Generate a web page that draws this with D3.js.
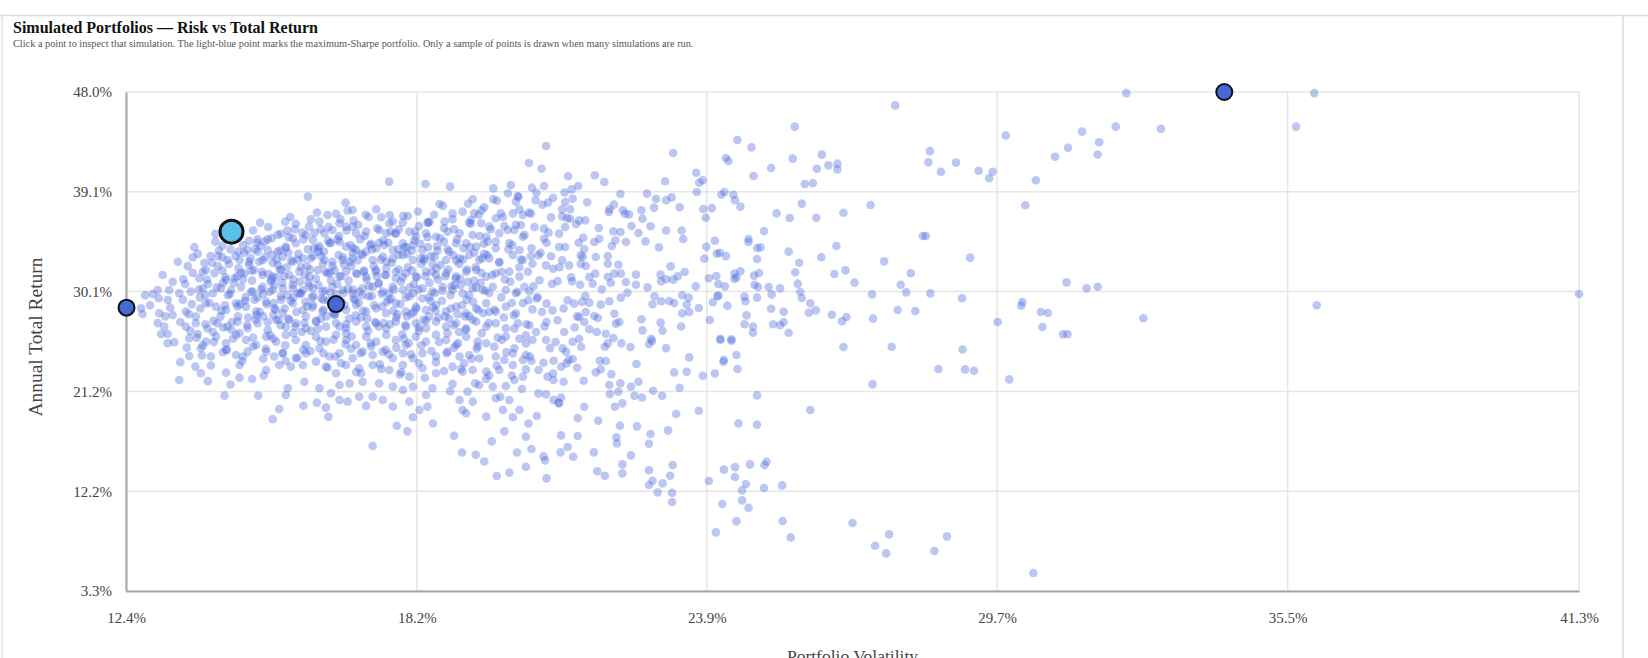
<!DOCTYPE html>
<html>
<head>
<meta charset="utf-8">
<script src="https://cdn.jsdelivr.net/npm/d3@7"></script>
<style>
  body { margin: 0; background: #fff; }
  svg text { font-family: "Liberation Serif", "Times New Roman", serif; }
</style>
</head>
<body>
<div id="chart"></div>
<script>
// valores: [volatilidad %, retorno total anual %]
const volTicks = [12.37, 18.16, 23.93, 29.71, 35.49, 41.29]
const retTicks = [3.3, 12.24, 21.18, 30.12, 39.06, 48.0]

const simsIzqArriba = [
  [17.61,39.97],[18.33,39.76],[18.82,39.52],[19.68,39.37],[20.03,39.67],[19.97,38.93],[20.17,38.69],[20.13,38.18],
  [19.75,38.27],[19.27,38.39],[19.5,37.67],[18.61,37.97],[18.87,37.13],[19.07,37.28],[19.3,37.13],[19.83,37.13],
  [20.07,37.13],[20.27,36.98],[19.73,36.69],[15.99,38.63],[16.74,38.09],[16.78,37.37],[16.88,37.43],[16.38,36.98],
  [16.22,36.39],[17.45,36.78],[17.62,36.98],[17.98,36.89],[17.88,36.3],[17.61,36.24],[18.37,36.3],[18.41,36.39],
  [18.71,36.39],[19.24,36.54],[19.44,36.24],[19.6,35.94],[19.97,35.64],[20.23,36.09],[15.54,36.39],
  [15.58,35.58],[16.01,35.94],[15.95,35.19],[15.69,34.89],[16.32,35.34],[16.48,35.64],[16.62,36.24],[16.75,35.94],
  [16.88,35.94],[16.95,35.34],[17.15,35.49],[17.41,35.64],[17.55,35.34],[17.74,35.34],[18.01,35.49],[18.14,35.04],
  [18.34,35.34],[18.54,35.04],[18.77,35.49],[19.01,35.34],[19.27,35.19],[19.54,35.04],[19.8,35.34],[20.1,35.64],
  [20.27,35.04],[14.99,34.8],[15.19,34.8],[14.82,34.66],[14.29,34.24],[14.61,33.7],[14.79,33.85],[14.99,33.7],
  [15.19,33.85],[15.39,33.7],[15.55,34.15],[15.75,34.45],[16.09,34.75],[16.19,34.0],[16.42,34.45],[16.62,34.6],
  [16.75,34.15],[16.95,33.85],[17.15,33.7],[17.35,34.0],[17.51,34.3],[17.68,33.85],[17.88,34.45],[18.08,34.3],
  [18.27,33.85],[18.57,33.79],[18.77,33.91],[18.94,34.45],[19.14,34.45],[19.34,34.15],[19.57,34.6],[19.73,34.0],
  [20.0,34.45],[20.2,33.85],[13.93,32.71],[14.29,33.19],[14.39,32.95],[14.63,32.95],[14.82,32.8],[15.09,32.95],
  [15.29,32.71],[15.49,33.25],[15.69,32.8],[15.89,33.1],[16.09,33.31],[16.32,32.95],[16.48,32.8],[16.68,32.95],
  [16.88,33.1],[17.08,33.4],[17.28,32.95],[17.48,33.25],[17.68,33.1],[17.88,33.4],[18.08,32.95],[18.31,33.1],
  [18.51,33.25],[18.74,32.95],[19.01,33.1],[19.2,33.4],[19.4,32.95],[19.6,33.1],[19.8,32.8],[20.07,33.4],[20.27,32.95]
]

const simsIzqCentro = [
  [13.1,31.61],[13.51,31.22],[13.83,31.31],[13.96,32.06],[14.13,31.76],[14.36,31.16],[14.53,31.31],[14.73,31.76],
  [14.92,32.06],[15.09,31.61],[15.29,31.46],[15.46,32.06],[15.62,31.61],[15.82,31.91],[16.02,31.46],[16.19,32.06],
  [16.38,31.76],[16.62,31.46],[16.75,31.91],[16.95,31.76],[17.15,31.46],[17.35,32.06],[17.55,31.61],[17.74,31.31],
  [17.94,31.76],[18.14,31.46],[18.34,31.91],[18.54,31.61],[18.74,31.76],[18.94,31.46],[19.14,31.91],[19.34,32.06],
  [19.54,31.46],[19.73,31.76],[20.0,31.91],[20.2,31.46],[13.0,30.27],[13.23,30.27],[13.43,29.97],[13.66,30.12],
  [13.9,30.42],[14.1,29.97],[14.26,30.42],[14.46,30.27],[14.66,30.56],[14.89,30.12],[15.09,30.56],[15.29,30.27],
  [15.49,30.42],[15.69,30.71],[15.89,30.27],[16.09,30.42],[16.28,30.12],[16.48,30.56],[16.68,30.27],[16.88,29.97],
  [17.08,30.42],[17.28,30.56],[17.48,30.12],[17.68,30.56],[17.88,30.27],[18.08,29.97],[18.27,30.42],[18.47,30.12],
  [18.67,30.56],[18.87,30.27],[19.07,29.97],[19.27,30.42],[19.47,30.27],[19.67,30.56],[19.93,30.27],[20.13,29.97],
  [20.3,30.56],[12.67,28.62],[12.7,28.12],[13.02,29.52],[13.2,29.37],[13.03,28.18],[13.3,28.03],[13.56,28.33],
  [13.76,27.88],[13.96,29.07],[14.16,28.77],[14.36,28.47],[14.56,29.07],[14.76,28.77],[14.96,28.33],[15.16,29.22],
  [15.32,28.62],[15.49,28.18],[15.69,29.07],[15.89,28.47],[16.09,28.92],[16.28,28.33],[16.52,28.03],[16.75,28.47],
  [16.95,28.92],[17.15,28.33],[17.35,28.62],[17.55,28.18],[17.74,29.07],[17.94,28.33],[18.14,28.77],[18.34,28.47],
  [18.54,28.92],[18.74,28.33],[18.94,28.77],[19.14,28.18],[19.34,28.62],[19.54,29.07],[19.73,28.33],[19.93,28.77],
  [20.13,28.18],[13.13,26.98],[13.2,26.32],[13.56,26.98],[13.76,27.28],[13.99,26.83],[14.19,27.28],[14.39,26.98],
  [14.59,27.43],[14.79,26.83],[14.99,27.28],[15.19,26.68],[15.36,27.58],[15.55,26.98],[15.75,27.28],[15.95,26.83],
  [16.15,27.43],[16.35,26.98],[16.55,27.28],[16.75,26.83],[16.95,27.43],[17.15,26.98],[17.35,27.28],[17.55,26.83],
  [17.74,27.43],[17.94,26.98],[18.14,27.28],[18.34,26.83],[18.54,27.43],[18.74,26.98],[18.94,27.28],[19.14,26.83],
  [19.34,27.43],[19.54,26.98],[19.73,27.28],[19.93,26.83],[20.17,27.28]
]

const simsIzqAbajo = [
  [13.07,26.32],[13.33,25.58],[13.2,25.49],[13.63,25.94],[13.8,26.32],[13.96,25.64],[14.16,26.09],[14.36,25.49],
  [14.56,26.24],[14.76,25.79],[14.96,25.34],[15.16,26.09],[15.36,25.64],[15.55,26.24],[15.75,25.79],[15.95,25.34],
  [16.15,26.09],[16.35,25.64],[16.55,26.24],[16.75,25.79],[16.95,25.34],[17.15,26.09],[17.35,25.64],[17.55,26.24],
  [17.74,25.79],[17.94,25.34],[18.14,26.09],[18.34,25.64],[18.54,26.24],[18.74,25.79],[18.94,25.34],[19.14,26.09],
  [19.37,25.64],[19.54,25.49],[19.7,25.19],[19.93,26.09],[20.1,25.04],[13.63,24.35],[13.86,25.04],[14.06,24.3],
  [14.36,24.89],[14.56,24.44],[14.79,24.74],[15.16,24.74],[15.32,24.3],[15.49,24.59],[15.75,24.15],[15.95,24.59],
  [16.22,25.04],[16.42,24.3],[16.62,24.59],[16.88,24.15],[17.08,24.74],[17.28,24.44],[17.48,24.74],[17.68,24.15],
  [17.88,24.59],[18.08,24.15],[18.27,24.59],[18.54,24.3],[18.77,24.74],[19.01,24.3],[19.2,24.44],[19.4,24.15],
  [19.73,24.3],[20.07,24.59],[20.27,24.0],[13.43,22.2],[13.86,22.8],[14.36,22.86],[14.63,23.55],[14.63,22.41],
  [14.88,22.29],[15.16,23.1],[15.42,23.55],[15.65,23.4],[15.89,23.55],[16.15,23.85],[16.35,23.4],[16.55,22.8],
  [16.75,23.55],[17.01,23.25],[17.28,23.55],[17.61,23.1],[17.88,23.55],[18.01,22.5],[18.27,23.25],[18.54,22.8],
  [18.87,23.4],[19.07,22.95],[19.27,23.1],[19.54,22.95],[19.8,23.1],[20.07,23.55],[20.27,22.5],[14.33,20.8],
  [15.42,19.61],[15.55,20.86],[15.59,21.46],[15.92,22.05],[16.22,21.46],[16.45,21.01],[16.62,21.76],[16.82,21.9],
  [17.08,22.05],[17.41,21.9],[17.68,21.61],[17.88,21.31],[18.08,21.61],[18.34,20.86],[18.47,21.46],[18.87,21.85],
  [19.17,21.16],[19.4,21.76],[19.67,21.61],[19.93,21.67],[20.1,22.2],[16.17,20.17],[16.35,19.73],[16.62,20.41],
  [16.78,20.26],[17.01,20.71],[17.15,19.88],[17.28,20.71],[17.48,20.41],[17.68,19.82],[18.01,20.26],[18.21,19.52],
  [18.37,19.82],[19.01,20.41],[19.27,20.26],[19.73,20.56],[20.0,20.41],[20.2,19.52],[15.29,18.68],[18.08,18.86],
  [19.07,19.52],[19.14,19.22],[19.54,18.92],[19.87,19.52],[20.07,18.86],
  [17.28,16.3],[17.76,18.1],[17.97,17.6],[18.48,18.3],[19.06,15.7],[19.33,15.5],[19.65,16.7],[19.9,17.6],
  [20.15,15.7],[19.5,14.9],[18.9,17.2],[20.0,13.9],[19.75,13.6]
]

const simsNucleo = [
  [14.05,33.3],[14.2,32.4],[14.45,33.9],[14.7,31.2],[14.85,33.1],[15.05,34.2],[15.25,31.0],[15.4,32.5],[15.6,33.6],
  [15.7,29.6],[15.85,32.3],[16.0,30.9],[16.2,33.7],[16.3,29.4],[16.45,31.1],[16.6,33.4],[16.7,30.0],[16.85,32.4],
  [17.0,29.1],[17.1,31.9],[17.25,34.4],[17.4,30.9],[17.55,32.8],[17.65,29.5],[17.8,32.1],[17.95,34.1],[18.1,30.8],
  [18.25,32.6],[18.4,29.6],[18.55,32.2],[18.7,34.6],[18.85,30.6],[19.0,32.6],[19.15,29.4],[19.3,31.1],[19.5,33.5],
  [19.6,30.0],[19.85,31.9],[20.05,29.1],[20.2,32.3],[13.3,31.0],[13.5,29.4],[13.7,31.8],[13.85,28.6],[14.0,30.8],
  [14.25,27.9],[14.4,29.8],[14.6,27.9],[14.75,29.6],[14.95,27.6],[15.1,29.9],[15.3,28.0],[15.45,29.7],[15.6,27.7],
  [15.8,30.0],[15.95,27.9],[16.1,29.7],[16.25,27.7],[16.4,29.3],[16.6,28.6],[16.75,26.4],[16.9,29.5],[17.05,27.8],
  [17.2,29.7],[17.4,27.0],[17.6,29.4],[17.75,27.8],[17.9,25.9],[18.05,28.1],[18.2,26.6],[18.4,27.9],[18.6,25.6],
  [18.8,27.7],[19.0,26.5],[19.2,27.9],[19.45,26.4],[19.6,28.3],[19.85,25.8],[20.1,26.8],[13.45,27.4],[13.65,26.6],
  [13.9,25.3],[14.1,26.5],[14.3,24.7],[14.5,25.9],[14.7,24.3],[14.9,26.0],[15.1,24.1],[15.3,25.9],[15.55,23.9],
  [15.7,26.4],[15.9,24.9],[16.05,26.6],[16.3,24.6],[16.5,25.8],[16.65,23.7],[16.85,25.0],[17.05,22.8],[17.25,25.2],
  [17.45,23.2],[17.6,24.5],[17.85,22.9],[18.0,25.5],[18.2,23.7],[18.45,24.8],[18.7,23.0],[18.9,25.1],[19.1,23.7],
  [19.35,25.0],[19.6,22.6],[19.9,24.0],[14.5,35.1],[14.9,35.6],[15.2,35.9],[15.45,35.3],[15.75,36.2],[16.05,36.6],
  [16.25,35.7],[16.55,37.1],[16.9,36.5],[17.2,36.8],[17.35,37.5],[17.8,35.7],[18.2,36.0],[18.5,37.0],[18.9,35.7],
  [19.2,36.3],[19.45,37.4],[19.9,36.0],[20.2,37.5],[13.6,32.4],[13.8,33.5],[14.15,34.6],[13.4,32.8],[13.25,28.7],
  [12.9,29.9],[12.85,28.9],[13.0,27.3],[12.75,29.8],[13.15,27.9],[13.45,23.8],[13.75,23.4],[14.0,22.1],[14.45,21.8],
  [15.9,19.9],[16.4,18.9],[15.0,20.8]
]

const simsDenso = [
  [13.55,30.8],[13.62,28.1],[13.7,33.2],[13.78,26.0],[13.84,29.6],[13.9,31.9],[13.95,27.2],[13.58,25.1],[13.88,24.4],[13.73,34.1],
  [14.03,29.1],[14.08,32.7],[14.12,25.6],[14.18,30.5],[14.22,33.8],[14.27,28.4],[14.31,26.9],[14.35,31.4],[14.4,34.9],[14.44,29.9],
  [14.48,27.4],[14.06,23.5],[14.29,32.0],[14.38,24.9],[14.15,35.3],
  [14.52,30.9],[14.55,33.3],[14.59,28.8],[14.63,26.4],[14.66,31.8],[14.7,34.3],[14.74,29.3],[14.78,27.1],[14.82,32.5],[14.86,30.1],
  [14.9,25.2],[14.94,33.9],[14.97,28.0],[14.57,36.0],[14.68,23.9],[14.88,31.1],[14.99,29.6],[14.61,32.2],
  [15.02,32.8],[15.06,30.3],[15.1,27.9],[15.13,34.6],[15.17,29.0],[15.21,31.7],[15.24,26.2],[15.28,33.4],[15.32,30.7],[15.35,28.5],
  [15.39,35.2],[15.43,32.1],[15.46,29.4],[15.49,24.6],[15.04,36.3],[15.15,25.0],[15.26,31.2],[15.37,33.0],[15.45,27.1],[15.11,22.6],
  [15.52,31.5],[15.55,34.0],[15.58,29.8],[15.62,27.6],[15.66,32.9],[15.69,30.4],[15.73,35.7],[15.76,28.3],[15.8,33.5],[15.83,31.0],
  [15.87,26.5],[15.9,34.8],[15.94,29.2],[15.97,32.4],[15.54,25.3],[15.64,36.8],[15.78,24.2],[15.85,30.0],[15.92,27.3],[15.99,33.9],
  [16.02,30.6],[16.05,33.1],[16.08,28.7],[16.12,35.4],[16.15,31.3],[16.19,26.8],[16.22,34.2],[16.26,29.5],[16.29,32.6],[16.33,30.2],
  [16.36,27.9],[16.4,35.9],[16.43,31.8],[16.47,29.0],[16.04,24.8],[16.17,37.2],[16.24,25.7],[16.31,33.7],[16.38,23.3],[16.45,34.5],[16.49,28.2],
  [16.52,32.0],[16.55,29.9],[16.58,34.8],[16.62,27.0],[16.65,31.5],[16.69,33.2],[16.72,28.9],[16.76,35.6],[16.79,30.4],[16.83,32.8],
  [16.86,26.1],[16.9,34.0],[16.93,29.4],[16.97,31.7],[16.54,24.3],[16.64,36.6],[16.74,25.4],[16.81,27.7],[16.88,33.6],[16.95,22.9],[16.99,36.1],
  [17.02,30.1],[17.05,33.5],[17.09,28.4],[17.12,35.1],[17.16,31.2],[17.19,26.6],[17.23,34.3],[17.26,29.7],[17.3,32.4],[17.33,27.4],
  [17.37,35.8],[17.4,30.8],[17.44,33.0],[17.47,28.8],[17.04,24.6],[17.14,37.0],[17.24,25.5],[17.34,31.9],[17.42,23.6],[17.49,34.7],
  [17.52,31.6],[17.56,29.2],[17.59,34.5],[17.63,27.2],[17.66,32.7],[17.7,30.3],[17.73,35.3],[17.77,28.1],[17.8,33.4],[17.84,31.0],
  [17.87,26.3],[17.91,34.1],[17.94,29.6],[17.98,32.3],[17.54,24.9],[17.68,36.4],[17.75,25.1],[17.82,22.7],[17.89,36.9],[17.96,27.9],
  [18.02,30.5],[18.06,33.8],[18.09,28.3],[18.13,35.5],[18.16,31.4],[18.2,26.9],[18.23,34.4],[18.27,29.5],[18.3,32.9],[18.34,27.5],
  [18.37,35.0],[18.41,30.9],[18.44,33.3],[18.48,28.7],[18.04,24.5],[18.18,37.3],[18.25,25.3],[18.32,22.4],[18.39,36.3],[18.46,31.9],
  [18.52,30.0],[18.56,34.2],[18.59,27.8],[18.63,32.5],[18.66,29.3],[18.7,35.8],[18.73,31.5],[18.77,26.4],[18.8,33.7],[18.84,28.6],
  [18.87,36.6],[18.91,30.7],[18.94,32.9],[18.98,25.5],[18.54,23.8],[18.68,37.8],[18.75,24.6],[18.82,21.2],[18.89,27.1],[18.96,34.8],
  [19.02,31.3],[19.06,28.9],[19.09,34.0],[19.13,26.7],[19.16,32.1],[19.2,29.8],[19.23,36.2],[19.27,27.6],[19.3,33.6],[19.34,30.5],
  [19.37,25.2],[19.41,35.1],[19.44,31.8],[19.48,28.2],[19.04,23.2],[19.18,38.0],[19.25,24.1],[19.32,21.9],[19.39,37.0],[19.46,33.1],
  [19.52,30.2],[19.56,33.4],[19.59,27.3],[19.63,35.7],[19.66,31.6],[19.7,28.5],[19.73,34.6],[19.77,26.0],[19.8,32.7],[19.84,29.6],
  [19.87,36.8],[19.91,31.2],[19.94,24.7],[19.98,33.9],[19.54,22.3],[19.68,38.4],[19.75,23.5],[19.82,20.7],[19.89,27.8],
  [20.02,31.0],[20.06,34.3],[20.09,28.0],[20.13,36.1],[20.16,30.1],[20.2,25.9],[20.23,33.0],[20.27,29.1],[20.3,35.2],[20.34,27.2],
  [20.37,31.9],[20.41,24.3],[20.44,34.0],[20.48,30.6],[20.05,22.6],[20.18,38.6],[20.25,21.4],[20.39,37.2],
  [20.55,29.5],[20.62,33.6],[20.7,27.0],[20.78,35.4],[20.85,30.8],[20.92,25.6],[21.0,32.3],[21.08,28.6],[21.15,36.7],[21.23,31.4],
  [21.3,26.9],[21.38,34.5],[21.45,29.2],[20.58,23.1],[20.88,22.2],[21.18,24.0],[21.42,32.6],[20.66,37.9],[21.1,39.0],[21.35,27.9]
]

const simsCentroExtra = [
  [14.58,31.5],[14.64,29.0],[14.72,33.6],[14.8,27.8],[14.87,32.0],[14.93,29.4],[14.98,34.5],[15.03,28.3],[15.08,31.9],[15.14,33.2],
  [15.19,27.4],[15.23,30.1],[15.27,34.9],[15.31,29.1],[15.36,31.4],[15.41,27.6],[15.44,33.8],[15.48,30.9],[15.53,28.6],[15.57,32.3],
  [15.61,35.0],[15.65,29.3],[15.7,31.2],[15.74,27.0],[15.79,33.0],[15.84,29.9],[15.88,35.4],[15.93,31.6],[15.98,28.8],[16.03,32.1],
  [16.07,29.6],[16.11,34.0],[16.16,27.5],[16.2,30.7],[16.25,33.3],[16.3,28.5],[16.34,31.9],[16.39,34.7],[16.44,30.0],[16.48,32.4],
  [16.53,28.1],[16.57,30.8],[16.61,35.1],[16.66,29.2],[16.71,32.5],[16.75,27.2],[16.8,31.1],[16.84,34.3],[16.89,30.3],[16.94,28.0],
  [16.98,32.9],[17.03,34.8],[17.07,29.8],[17.11,32.0],[17.17,27.7],[17.21,30.6],[17.27,33.9],[17.31,28.9],[17.36,31.5],[17.41,34.5],
  [17.46,29.9],[17.5,27.3],[17.55,32.2],[17.6,30.0],[17.64,35.5],[17.69,28.4],[17.74,31.9],[17.79,33.9],[17.83,29.0],[17.88,31.4],
  [17.93,27.1],[17.97,33.5],[18.01,29.7],[18.06,32.0],[18.11,34.7],[18.15,28.6],[18.19,30.3],[18.24,33.1],[18.29,27.6],[18.33,31.5],
  [18.38,34.1],[18.43,29.3],[18.47,32.6],[18.53,28.4],[18.58,31.2],[18.62,34.9],[18.67,30.2],[18.72,27.9],[18.78,32.1],[18.83,29.8],
  [18.88,33.4],[18.93,31.3],[18.97,28.1],[19.03,30.7],[19.08,33.0],[19.12,27.9],[19.17,31.0],[19.22,34.1],[19.28,29.2],[19.33,32.3],
  [19.38,28.5],[19.43,30.9],[19.49,34.4],[14.3,30.9],[14.34,28.9],[14.42,32.6],[14.47,26.7],[13.95,29.8],[13.98,31.2],[14.11,27.5],
  [14.2,33.3],[13.82,30.3],[13.68,29.0]
]

const simsMedioArriba = [
  [27.68,46.8],[25.68,44.9],[24.54,43.7],[24.82,43.04],[23.26,42.54],[24.31,42.09],[24.36,41.82],[25.64,42.03],
  [26.22,42.39],[25.21,41.19],[26.12,41.13],[26.35,41.43],[26.53,41.58],[26.53,41.07],[24.86,40.48],[23.72,40.77],
  [23.85,40.09],[23.78,39.88],[23.1,40.0],[25.88,39.76],[26.04,39.85],[23.73,39.04],[24.28,39.04],[24.22,38.8],
  [24.46,38.8],[24.49,38.3],[24.6,37.73],[23.86,37.52],[24.03,37.6],[23.91,36.74],[25.82,38.0],[25.32,37.13],
  [25.58,36.71],[26.11,36.74],[26.65,37.19],[27.19,37.88],[28.23,35.1],[23.39,37.67],[23.23,38.56],[22.92,38.44],
  [23.12,38.3],[22.88,37.64],[22.74,38.9],[22.21,38.86],[25.07,35.55],[24.76,34.83],[24.76,34.56],[24.93,34.03],
  [25.0,34.08],[25.56,33.7],[26.51,34.2],[26.21,33.19],[27.46,32.83],[24.09,34.68],[23.92,34.14],[24.13,33.52],
  [24.19,33.6],[24.31,33.3],[23.88,33.07],[24.93,33.04],[25.77,32.71],[25.69,31.85],[24.97,31.79],[24.87,31.55],
  [24.48,31.73],[24.6,31.94],[24.52,31.4],[24.48,31.25],[24.12,31.52],[23.97,31.31],[24.16,30.8],[24.29,30.59],
  [24.88,30.74],[24.95,30.53],[25.16,30.53],[25.39,30.41],[25.22,29.87],[24.93,29.58],[24.68,29.67],[24.7,29.25],
  [24.16,29.76],[24.14,29.7],[24.05,29.16],[24.34,28.86],[25.74,30.83],[25.79,30.08],[25.82,29.55],[25.99,29.07],
  [25.96,28.23],[26.1,28.44],[26.47,31.7],[26.69,32.02],[26.87,30.92],[27.22,29.87],[27.79,30.74],[27.9,30.05],
  [27.99,31.76],[27.73,28.47],[28.08,28.38],[27.24,27.7],[26.42,28.05],[26.71,27.84],[26.62,27.46],[25.21,28.59],
  [25.46,28.32],[25.46,27.4],[25.25,27.19],[25.39,27.1],[25.56,26.44],[24.85,26.99],[24.85,26.44],[24.68,27.19],
  [24.72,27.99],[23.99,27.58],[24.2,25.9],[24.42,25.85],[23.71,30.59],[23.77,28.65],[23.57,29.58],[23.44,29.79],
  [23.53,28.95],[23.44,28.17],[23.58,28.29],[23.42,26.99],[23.49,31.88],[23.35,31.49],[23.21,32.38],[23.26,31.19],
  [23.01,31.64],[23.02,31.04],[23.12,31.22],[22.75,30.5],[22.89,29.7],[23.02,29.25],[22.85,28.98],[23.18,29.28],
  [23.28,29.1],[23.01,27.34],[23.05,26.62],[22.63,27.64],[22.65,26.65],[22.82,25.9],[22.98,34.08],[22.71,34.62],
  [23.12,35.6],[23.43,35.6],[23.46,34.83],[22.81,35.97],[22.57,35.37],[22.43,36.0],[22.65,36.65],[22.63,37.4],
  [22.3,37.1],[22.38,37.04]
]

const simsMedioIzq = [
  [20.73,43.16],[20.39,41.64],[20.64,41.13],[21.17,40.45],[21.7,40.54],[21.89,39.94],[21.37,39.58],[21.24,39.28],
  [20.69,39.58],[20.45,39.43],[20.54,38.98],[20.87,38.53],[20.52,38.3],[20.77,38.09],[21.26,38.44],[21.11,38.15],
  [21.55,38.12],[21.05,37.49],[21.21,37.49],[21.98,37.25],[22.08,37.91],[21.99,37.49],[22.26,37.4],[20.43,37.1],
  [21.05,36.86],[20.83,36.77],[21.21,36.65],[21.39,36.5],[21.33,36.15],[21.51,36.5],[20.69,35.76],[20.5,35.91],
  [21.11,35.91],[20.99,35.31],[21.78,35.82],[22.07,35.52],[22.21,35.46],[21.47,34.95],[21.79,34.86],[21.69,34.56],
  [22.11,34.71],[22.32,34.56],[22.04,34.2],[20.69,34.86],[20.74,34.5],[20.99,34.11],[21.11,34.11],[21.49,33.91],
  [21.42,33.37],[21.46,33.22],[21.72,33.22],[21.96,33.31],[20.43,33.31],[20.58,33.37],[20.83,33.28],[21.05,32.92],
  [20.46,32.62],[20.73,32.47],[20.87,32.17],[21.19,32.47],[21.52,32.41],[21.96,32.62],[22.17,32.53],[22.22,31.73],
  [22.52,31.64],[22.09,31.73],[21.71,31.73],[21.96,31.43],[21.59,31.43],[21.25,31.04],[20.96,31.04],[20.6,31.13],
  [21.41,30.74],[21.66,30.83],[22.02,30.92],[22.32,30.98],[22.52,30.74],[21.84,30.32],[22.35,30.02],[22.22,29.58],
  [21.16,29.34],[21.29,29.04],[21.51,29.73],[21.59,29.13],[21.82,28.95],[21.99,29.25],[20.4,30.14],[20.56,29.64],
  [20.38,29.34],[20.74,29.04],[20.46,28.53],[20.65,28.29],[20.86,28.44],[20.96,27.55],[20.74,27.4],[21.39,27.84],
  [21.49,27.4],[21.69,27.93],[21.76,27.76],[22.09,28.14],[22.19,27.4],[21.52,28.29],[22.12,27.25],[20.53,26.5],
  [21.09,26.5],[21.59,26.74],[21.74,26.5],[21.92,26.35],[22.07,25.96],[21.39,25.9],[20.4,27.1],[20.33,26.2]
]

const simsMedioAbajo = [
  [26.65,25.15],[27.61,25.18],[27.23,21.81],[25.99,19.51],[24.93,20.82],[24.93,18.2],[24.56,18.31],[24.2,25.78],
  [24.42,25.72],[24.52,24.44],[24.27,23.99],[24.26,23.84],[24.54,23.18],[24.09,22.79],[23.85,22.58],[23.53,22.94],
  [23.28,22.88],[23.58,24.23],[23.12,25.06],[23.39,21.51],[23.77,19.45],[23.32,19.15],[23.16,17.69],[24.27,14.17],
  [24.49,14.4],[24.49,13.51],[24.79,14.64],[25.08,14.58],[25.12,14.88],[24.71,12.88],[24.63,12.31],[25.07,12.52],
  [25.43,12.76],[23.97,13.15],[24.24,11.09],[24.63,11.42],[24.76,10.76],[24.52,9.54],[24.11,8.55],[25.44,9.57],
  [25.6,8.1],[26.83,9.39],[27.56,8.37],[27.28,7.36],[27.5,6.67],[23.25,14.58],[23.2,13.63],[23.05,12.94],
  [23.24,12.1],[22.95,12.13],[23.24,11.27],[22.78,12.79],[22.85,13.18],[22.78,14.11],[22.25,14.64],[22.25,13.84],
  [21.9,13.63],[21.75,14.02],[20.74,13.39],[22.42,15.45],[22.78,16.49],[22.81,17.36],[22.54,18.05],[22.2,18.11],
  [22.13,17.06],[22.14,16.52],[21.68,15.72],[21.27,15.33],[21.16,16.2],[21.02,15.72],[21.03,17.24],[21.36,17.18],
  [21.77,18.55],[21.36,18.79],[21.49,19.81],[22.1,19.81],[22.25,20.11],[20.55,18.97],[20.38,18.31],[20.33,17.12],
  [20.44,16.02],[20.68,15.36],[20.71,15.0],[20.33,14.43],[20.58,21.0],[20.73,20.91],[20.88,20.41],[20.99,20.11],
  [21.03,20.64],[21.99,21.75],[22.0,20.94],[22.17,21.15],[22.21,21.9],[22.42,21.6],[22.49,20.79],[22.64,20.64],
  [22.57,22.05],[22.86,21.24],[23.04,20.79],[21.48,22.14],[21.08,22.05],[20.76,22.5],[20.87,22.79],[21.03,23.39],
  [21.14,23.69],[21.35,23.3],[21.26,24.08],[20.68,23.75],[20.44,23.93],[20.33,24.44],[20.33,23.15],[20.88,23.93],
  [21.72,22.88],[21.82,23.15],[21.8,23.93],[21.92,23.9],[22.03,22.73],[22.53,23.63],[21.9,25.18],[21.96,25.48],
  [22.23,25.48],[22.41,25.15],[21.43,25.18],[21.13,24.73],[21.06,25.03],[20.81,25.06],[22.78,25.42],[22.84,25.69],
  [21.26,25.63],[20.73,25.78],[20.46,25.78],[20.33,25.48],[20.98,20.17]
]

const simsDerecha = [
  [32.28,47.9],[36.02,47.9],[35.66,44.9],[32.97,44.7],[32.07,44.9],[31.4,44.45],[31.74,43.5],[31.71,42.4],
  [31.12,43.0],[30.86,42.2],[29.88,44.1],[30.48,40.1],[30.27,37.85],[28.37,42.7],[28.34,41.7],[28.59,40.86],
  [28.89,41.67],[29.34,40.95],[29.62,40.86],[29.55,40.27],[28.29,35.1],[29.17,33.16],[28.38,29.96],[29.01,29.52],
  [31.09,30.95],[31.49,30.41],[31.71,30.56],[30.21,29.19],[30.19,28.86],[30.58,28.29],[30.72,28.2],[29.72,27.4],
  [30.61,26.95],[31.02,26.3],[31.11,26.3],[32.62,27.73],[36.07,28.9],[29.02,24.94],[28.54,23.18],[29.07,23.15],
  [29.25,23.03],[29.95,22.26],[28.71,8.19],[28.46,6.88],[30.43,4.91],[41.29,29.9]
]

// carteras destacadas
const destacadas = [
  { vol: 12.38, ret: 28.68 },
  { vol: 16.55, ret: 29.0 },
  { vol: 34.23, ret: 48.0 }
]
const maxSharpe = { vol: 14.47, ret: 35.49 }

const ancho = 1648
const alto = 658
const margen = { izquierdo: 126, derecho: 69, superior: 92, inferior: 67 }

const todas = [].concat(simsIzqArriba, simsIzqCentro, simsIzqAbajo, simsNucleo, simsDenso, simsCentroExtra,
  simsMedioArriba, simsMedioIzq, simsMedioAbajo, simsDerecha)

const svg = d3.select("#chart").append("svg").attr("width", ancho).attr("height", alto)

// marco de la tarjeta
svg.append("line").attr("x1", 0).attr("x2", ancho).attr("y1", 15.5).attr("y2", 15.5)
  .attr("stroke", "#dddddd").attr("stroke-width", 1.5)
svg.append("line").attr("x1", 2).attr("x2", 2).attr("y1", 15).attr("y2", alto)
  .attr("stroke", "#e2e2e2").attr("stroke-width", 1.5)
svg.append("line").attr("x1", 1623).attr("x2", 1623).attr("y1", 15).attr("y2", alto)
  .attr("stroke", "#dddddd").attr("stroke-width", 1.5)

svg.append("text").attr("x", 13).attr("y", 33)
  .attr("font-size", 16).attr("font-weight", "bold").attr("fill", "#111")
  .text("Simulated Portfolios — Risk vs Total Return")
svg.append("text").attr("x", 13).attr("y", 47)
  .attr("font-size", 10.3).attr("fill", "#555")
  .text("Click a point to inspect that simulation. The light-blue point marks the maximum-Sharpe portfolio. Only a sample of points is drawn when many simulations are run.")

const x = d3.scaleLinear().domain([volTicks[0], volTicks[volTicks.length - 1]])
  .range([margen.izquierdo, ancho - margen.derecho])
const y = d3.scaleLinear().domain([retTicks[0], retTicks[retTicks.length - 1]])
  .range([alto - margen.inferior, margen.superior])

const fmt = d => d.toFixed(1) + "%"

// rejilla
const rejilla = svg.append("g")
rejilla.selectAll("line.v").data(volTicks).join("line").attr("class", "v")
  .attr("x1", d => x(d)).attr("x2", d => x(d))
  .attr("y1", y.range()[1]).attr("y2", y.range()[0])
  .attr("stroke", "#e6e6e6").attr("stroke-width", 1.5)
rejilla.selectAll("line.h").data(retTicks).join("line").attr("class", "h")
  .attr("y1", d => y(d)).attr("y2", d => y(d))
  .attr("x1", x.range()[0]).attr("x2", x.range()[1])
  .attr("stroke", "#e6e6e6").attr("stroke-width", 1.5)

// ejes
const ejeY = svg.append("g").attr("transform", `translate(${margen.izquierdo},0)`)
  .call(d3.axisLeft(y).tickValues(retTicks).tickFormat(fmt).tickSize(0).tickPadding(14))
const ejeX = svg.append("g").attr("transform", `translate(0,${alto - margen.inferior})`)
  .call(d3.axisBottom(x).tickValues(volTicks).tickFormat(fmt).tickSize(0).tickPadding(21))
;[ejeX, ejeY].forEach(g => {
  g.select(".domain").attr("stroke", "#a6a6a6").attr("stroke-width", 2)
  g.selectAll("text").attr("font-size", 15).attr("fill", "#444")
    .attr("font-family", "'Liberation Serif', 'Times New Roman', serif")
})

svg.append("text").attr("transform", "translate(42,337) rotate(-90)")
  .attr("text-anchor", "middle").attr("font-size", 19.4).attr("fill", "#444")
  .text("Annual Total Return")
svg.append("text").attr("x", (x.range()[0] + x.range()[1]) / 2).attr("y", 662)
  .attr("text-anchor", "middle").attr("font-size", 17.5).attr("fill", "#444")
  .text("Portfolio Volatility")

// puntos simulados
const grupoPuntos = svg.append("g")
grupoPuntos.selectAll("circle").data(todas).join("circle")
  .attr("cx", d => x(d[0])).attr("cy", d => y(d[1])).attr("r", 4.3)
  .attr("fill", "#4664dc").attr("fill-opacity", 0.37)

svg.append("g").selectAll("circle").data(destacadas).join("circle")
  .attr("cx", d => x(d.vol)).attr("cy", d => y(d.ret)).attr("r", 8)
  .attr("fill", "#4669d7").attr("stroke", "#111").attr("stroke-width", 2)

svg.append("circle").datum(maxSharpe)
  .attr("cx", d => x(d.vol)).attr("cy", d => y(d.ret)).attr("r", 11.5)
  .attr("fill", "#5abfea").attr("stroke", "#111").attr("stroke-width", 3)
</script>
</body>
</html>
